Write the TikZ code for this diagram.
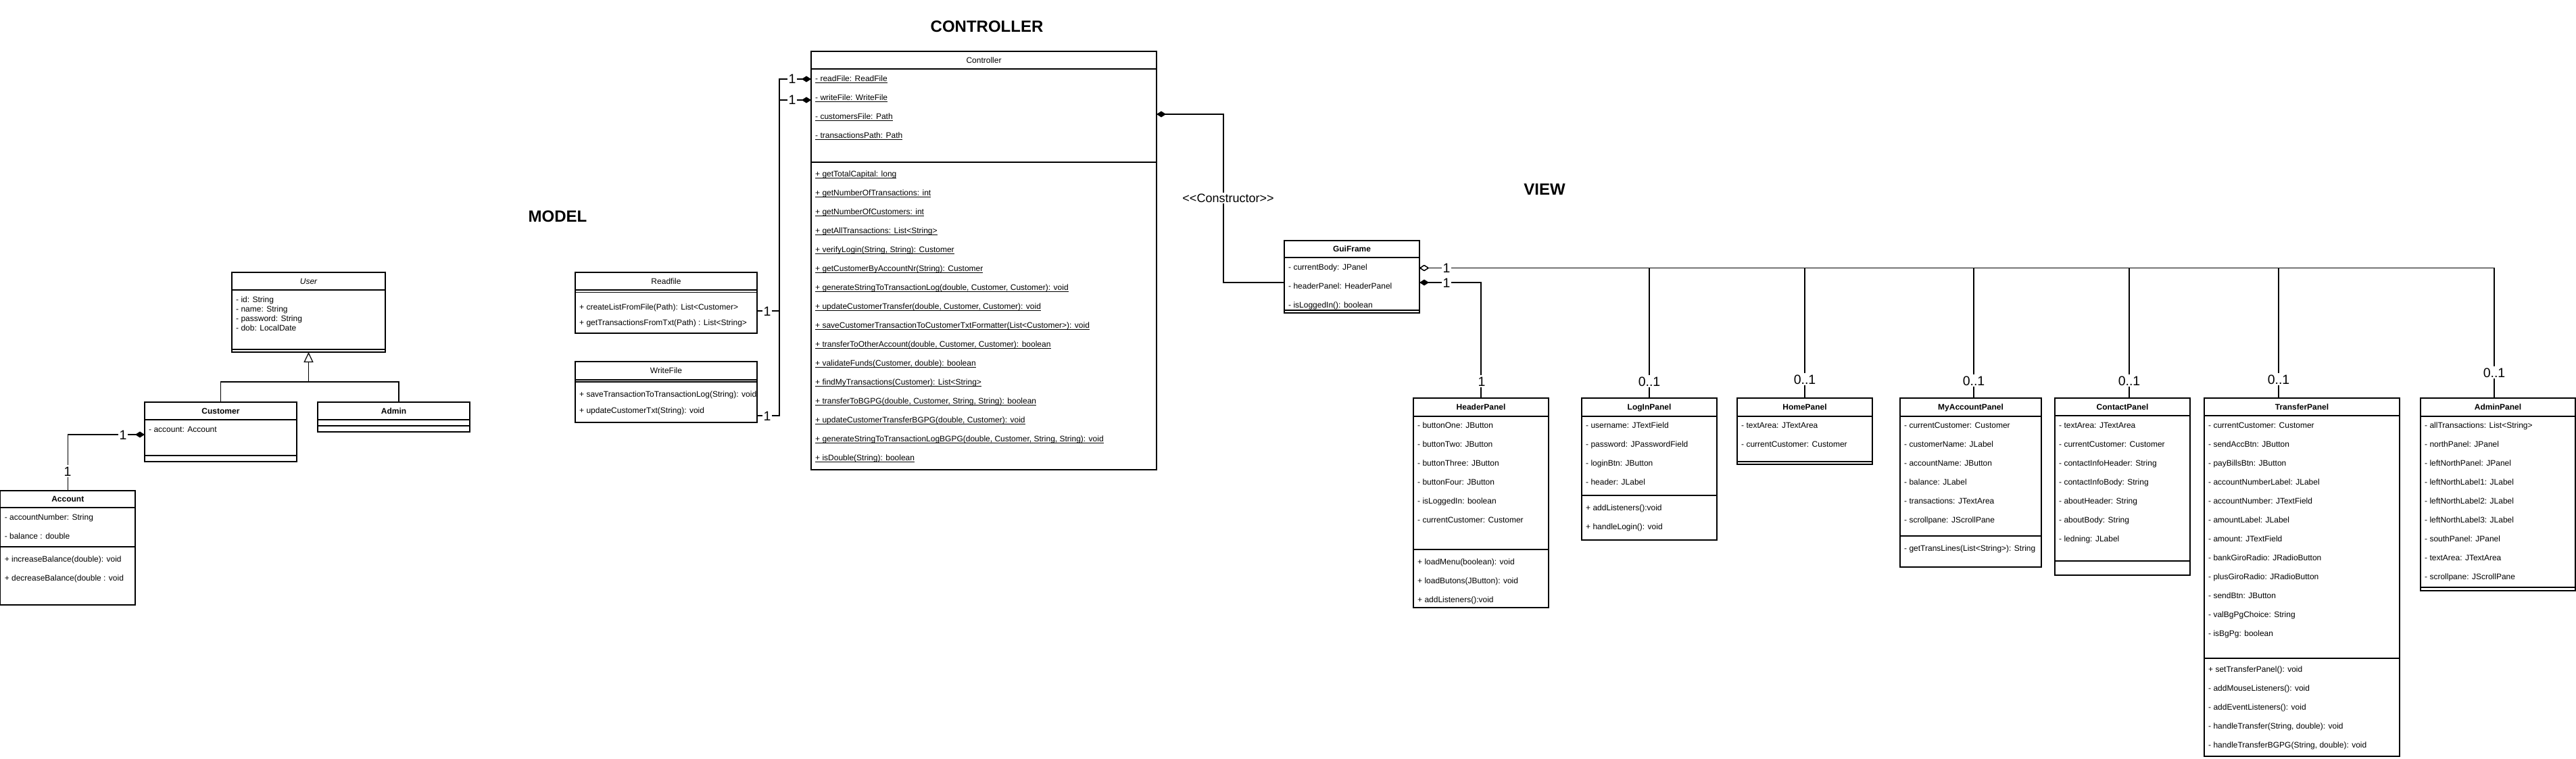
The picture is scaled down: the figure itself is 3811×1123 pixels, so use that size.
\documentclass[tikz,border=0pt]{standalone}
\usepackage{fontspec}
\setmainfont{Liberation Sans}
\usetikzlibrary{arrows.meta}

\newcommand{\myul}[1]{\setbox0\hbox{#1}\rlap{\copy0}\rule[-2.4pt]{\wd0}{0.9pt}}
\newcommand{\umlbox}[5]{\node[box, minimum width=#4pt, minimum height=#5pt] (#1) at (#2,#3) {};}
\newcommand{\umlsep}[2]{\draw[boxline] ([yshift=-#2pt]#1.north west) -- ([yshift=-#2pt]#1.north east);}
\newcommand{\umltitle}[4]{\node[#2] (#1-title) at ([yshift=-#3pt]#1.north) {#4};}
\newcommand{\umlrows}[6]{\foreach \rowtxt [count=\i] in {#6} {\node[#5] (#1-#2\i) at ([xshift=6pt,yshift={-(#3)-(#4)*(\i-1)}]#1.north west) {\rowtxt};}}

\tikzset{
  boxline/.style={line width=1.2pt},
  box/.style={draw, line width=1.2pt, fill=white, inner sep=0pt, outer sep=0pt, anchor=north west},
  txt/.style={anchor=west, inner sep=0pt, text height=8.6pt, text depth=0pt, font=\fontsize{12}{14}\selectfont},
  ttlb/.style={inner sep=0pt, text height=8.6pt, text depth=0pt, font=\fontsize{12}{14}\selectfont\bfseries},
  ttlr/.style={inner sep=0pt, text height=8.6pt, text depth=0pt, font=\fontsize{12}{14}\selectfont},
  ttli/.style={inner sep=0pt, text height=8.6pt, text depth=0pt, font=\fontsize{12}{14}\selectfont\itshape},
  mult/.style={fill=white, inner sep=2pt, text height=14pt, text depth=0pt, font=\fontsize{19.5}{22}\selectfont},
  lbl/.style={fill=white, inner sep=1.5pt, text height=12.9pt, text depth=0pt, font=\fontsize{18}{20}\selectfont},
  head/.style={inner sep=0pt, text height=17.2pt, text depth=0pt, font=\fontsize{24}{28}\selectfont\bfseries},
  comp/.style={boxline, -{Diamond[length=14pt,width=9pt,fill=black]}},
  agg/.style={boxline, -{Diamond[open,length=14pt,width=9pt,fill=white]}},
  gen/.style={boxline, -{Triangle[open,length=15pt,width=14pt,fill=white]}},
}

\begin{document}
\begin{tikzpicture}[x=1pt, y=-1pt]
\fill[white] (0,0) rectangle (3811,1123);
\useasboundingbox (0,0) rectangle (3811,1123);

% ---------- section titles
\node[head] (tC) at (1460,39) {CONTROLLER};
\node[head] (tM) at (825,320) {MODEL};
\node[head] (tV) at (2285,280) {VIEW};

% ---------- MODEL
\umlbox{User}{343}{403}{227}{118}
\umltitle{User}{ttli}{13}{User}
\umlsep{User}{26}
\umlrows{User}{a}{40}{14}{txt}{- id: String, - name: String, - password: String, - dob: LocalDate}
\umlsep{User}{114}

\umlbox{Customer}{214}{595}{225}{88}
\umltitle{Customer}{ttlb}{13}{Customer}
\umlsep{Customer}{26}
\umlrows{Customer}{a}{40}{28}{txt}{- account: Account}
\umlsep{Customer}{79}

\umlbox{Admin}{470}{595}{225}{44}
\umltitle{Admin}{ttlb}{13}{Admin}
\umlsep{Admin}{26}
\umlsep{Admin}{35}

\umlbox{Account}{0.6}{726}{199.4}{169}
\umltitle{Account}{ttlb}{12.5}{Account}
\umlsep{Account}{25}
\umlrows{Account}{a}{39}{28}{txt}{- accountNumber: String, - balance : double}
\umlsep{Account}{83}
\umlrows{Account}{m}{101}{28}{txt}{+ increaseBalance(double): void, + decreaseBalance(double : void}

\umlbox{Readfile}{851}{403}{269}{90}
\umltitle{Readfile}{ttlr}{13.5}{Readfile}
\umlsep{Readfile}{26}
\umlsep{Readfile}{29.5}
\umlrows{Readfile}{m}{51}{23}{txt}{+ createListFromFile(Path): List<Customer>, + getTransactionsFromTxt(Path) : List<String>}

\umlbox{WriteFile}{851}{535}{269}{90}
\umltitle{WriteFile}{ttlr}{13.5}{WriteFile}
\umlsep{WriteFile}{27}
\umlsep{WriteFile}{30}
\umlrows{WriteFile}{m}{48}{24}{txt}{+ saveTransactionToTransactionLog(String): void, + updateCustomerTxt(String): void}

% ---------- CONTROLLER
\umlbox{Controller}{1200}{76}{511}{619}
\umltitle{Controller}{ttlr}{13}{Controller}
\umlsep{Controller}{26}
\foreach \rowtxt [count=\i] in {- readFile: ReadFile, - writeFile: WriteFile, - customersFile: Path, - transactionsPath: Path}
  {\node[txt] (Controller-a\i) at ([xshift=6pt,yshift={-40-28*(\i-1)}]Controller.north west) {\myul{\rowtxt}};}
\umlsep{Controller}{164}
\foreach \rowtxt [count=\i] in {
  + getTotalCapital: long,
  + getNumberOfTransactions: int,
  + getNumberOfCustomers: int,
  + getAllTransactions: List<String>,
  {+ verifyLogin(String, String): Customer},
  + getCustomerByAccountNr(String): Customer,
  {+ generateStringToTransactionLog(double, Customer, Customer): void},
  {+ updateCustomerTransfer(double, Customer, Customer): void},
  + saveCustomerTransactionToCustomerTxtFormatter(List<Customer>): void,
  {+ transferToOtherAccount(double, Customer, Customer): boolean},
  {+ validateFunds(Customer, double): boolean},
  + findMyTransactions(Customer): List<String>,
  {+ transferToBGPG(double, Customer, String, String): boolean},
  {+ updateCustomerTransferBGPG(double, Customer): void},
  {+ generateStringToTransactionLogBGPG(double, Customer, String, String): void},
  + isDouble(String): boolean}
  {\node[txt] (Controller-m\i) at ([xshift=6pt,yshift={-181-28*(\i-1)}]Controller.north west) {\myul{\rowtxt}};}

% ---------- VIEW
\umlbox{GuiFrame}{1900}{356}{200}{107}
\umltitle{GuiFrame}{ttlb}{12.5}{GuiFrame}
\umlsep{GuiFrame}{25}
\umlrows{GuiFrame}{a}{39}{28}{txt}{- currentBody: JPanel, - headerPanel: HeaderPanel, - isLoggedIn(): boolean}
\umlsep{GuiFrame}{103}

\umlbox{HeaderPanel}{2091}{589}{200}{310}
\umltitle{HeaderPanel}{ttlb}{13}{HeaderPanel}
\umlsep{HeaderPanel}{27}
\umlrows{HeaderPanel}{a}{40}{28}{txt}{- buttonOne: JButton, - buttonTwo: JButton, - buttonThree: JButton, - buttonFour: JButton, - isLoggedIn: boolean, - currentCustomer: Customer}
\umlsep{HeaderPanel}{224}
\umlrows{HeaderPanel}{m}{242}{28}{txt}{+ loadMenu(boolean): void, + loadButons(JButton): void, + addListeners():void}

\umlbox{LogInPanel}{2340}{589}{200}{210}
\umltitle{LogInPanel}{ttlb}{13}{LogInPanel}
\umlsep{LogInPanel}{27}
\umlrows{LogInPanel}{a}{40}{28}{txt}{- username: JTextField, - password: JPasswordField, - loginBtn: JButton, - header: JLabel}
\umlsep{LogInPanel}{144}
\umlrows{LogInPanel}{m}{162}{28}{txt}{+ addListeners():void, + handleLogin(): void}

\umlbox{HomePanel}{2570}{589}{200}{98}
\umltitle{HomePanel}{ttlb}{13}{HomePanel}
\umlsep{HomePanel}{27}
\umlrows{HomePanel}{a}{40}{28}{txt}{- textArea: JTextArea, - currentCustomer: Customer}
\umlsep{HomePanel}{94}

\umlbox{MyAccountPanel}{2811}{589}{209}{250}
\umltitle{MyAccountPanel}{ttlb}{13}{MyAccountPanel}
\umlsep{MyAccountPanel}{27}
\umlrows{MyAccountPanel}{a}{40}{28}{txt}{- currentCustomer: Customer, - customerName: JLabel, - accountName: JButton, - balance: JLabel, - transactions: JTextArea, - scrollpane: JScrollPane}
\umlsep{MyAccountPanel}{204}
\umlrows{MyAccountPanel}{m}{222}{28}{txt}{- getTransLines(List<String>): String}

\umlbox{ContactPanel}{3040}{589}{200}{262}
\umltitle{ContactPanel}{ttlb}{13}{ContactPanel}
\umlsep{ContactPanel}{26}
\umlrows{ContactPanel}{a}{40}{28}{txt}{- textArea: JTextArea, - currentCustomer: Customer, - contactInfoHeader: String, - contactInfoBody: String, - aboutHeader: String, - aboutBody: String, - ledning: JLabel}
\umlsep{ContactPanel}{241}

\umlbox{TransferPanel}{3261}{589}{289}{530}
\umltitle{TransferPanel}{ttlb}{13}{TransferPanel}
\umlsep{TransferPanel}{26}
\umlrows{TransferPanel}{a}{40}{28}{txt}{- currentCustomer: Customer, - sendAccBtn: JButton, - payBillsBtn: JButton, - accountNumberLabel: JLabel, - accountNumber: JTextField, - amountLabel: JLabel, - amount: JTextField, - bankGiroRadio: JRadioButton, - plusGiroRadio: JRadioButton, - sendBtn: JButton, - valBgPgChoice: String, - isBgPg: boolean}
\umlsep{TransferPanel}{385}
\umlrows{TransferPanel}{m}{401}{28}{txt}{+ setTransferPanel(): void, - addMouseListeners(): void, - addEventListeners(): void, {- handleTransfer(String, double): void}, {- handleTransferBGPG(String, double): void}}

\umlbox{AdminPanel}{3581}{589}{229}{285}
\umltitle{AdminPanel}{ttlb}{13}{AdminPanel}
\umlsep{AdminPanel}{27}
\umlrows{AdminPanel}{a}{40}{28}{txt}{- allTransactions: List<String>, - northPanel: JPanel, - leftNorthPanel: JPanel, - leftNorthLabel1: JLabel, - leftNorthLabel2: JLabel, - leftNorthLabel3: JLabel, - southPanel: JPanel, - textArea: JTextArea, - scrollpane: JScrollPane}
\umlsep{AdminPanel}{280}

% ---------- connectors
\draw[boxline] (Customer.north) -- ++(0,-30) -| ([xshift=7.5pt]Admin.north);
\draw[gen] ([yshift=-44pt]User.south) -- (User.south);
\draw[comp] (Account.north) |- ([yshift=-4pt]Customer.west);

\draw[comp] ([yshift=-12pt]Readfile.east) -- ++(33,0) |- ([yshift=-41pt]Controller.north west);
\draw[comp] ([yshift=-35pt]WriteFile.east) -- ++(33,0) |- ([yshift=-72pt]Controller.north west);
\draw[comp] ([yshift=-8.5pt]GuiFrame.west) -- ++(-90,0) |- ([yshift=-93pt]Controller.north east);

\draw[comp] (HeaderPanel.north) |- ([yshift=-8.5pt]GuiFrame.east);
\foreach \p/\s in {LogInPanel/0, HomePanel/0, MyAccountPanel/4.5, ContactPanel/10, TransferPanel/-34.5, AdminPanel/-5.5}
  {\draw[agg] ([xshift=\s]\p.north) |- ([yshift=13pt]GuiFrame.east);}

% ---------- labels
\node[mult] (mAcc) at (100,697) {1};
\node[mult] (mCus) at (182,643) {1};
\node[mult] (mRf) at (1135,460) {1};
\node[mult] (mRc) at (1172,117) {1};
\node[mult] (mWf) at (1135,615) {1};
\node[mult] (mWc) at (1172,148) {1};
\node[lbl] (constr) at (1817,293) {<\kern0pt<Constructor>\kern0pt>};
\node[mult] (mG1) at (2140,396.5) {1};
\node[mult] (mG2) at (2140,418) {1};
\node[mult] (mHP) at (2192,564) {1};
\node[mult] (mLP) at (2440,564) {0..1};
\node[mult] (mHo) at (2670,561) {0..1};
\node[mult] (mMA) at (2920,563) {0..1};
\node[mult] (mCP) at (3150,563) {0..1};
\node[mult] (mTP) at (3371,561) {0..1};
\node[mult] (mAP) at (3690,551) {0..1};
\end{tikzpicture}
\end{document}
